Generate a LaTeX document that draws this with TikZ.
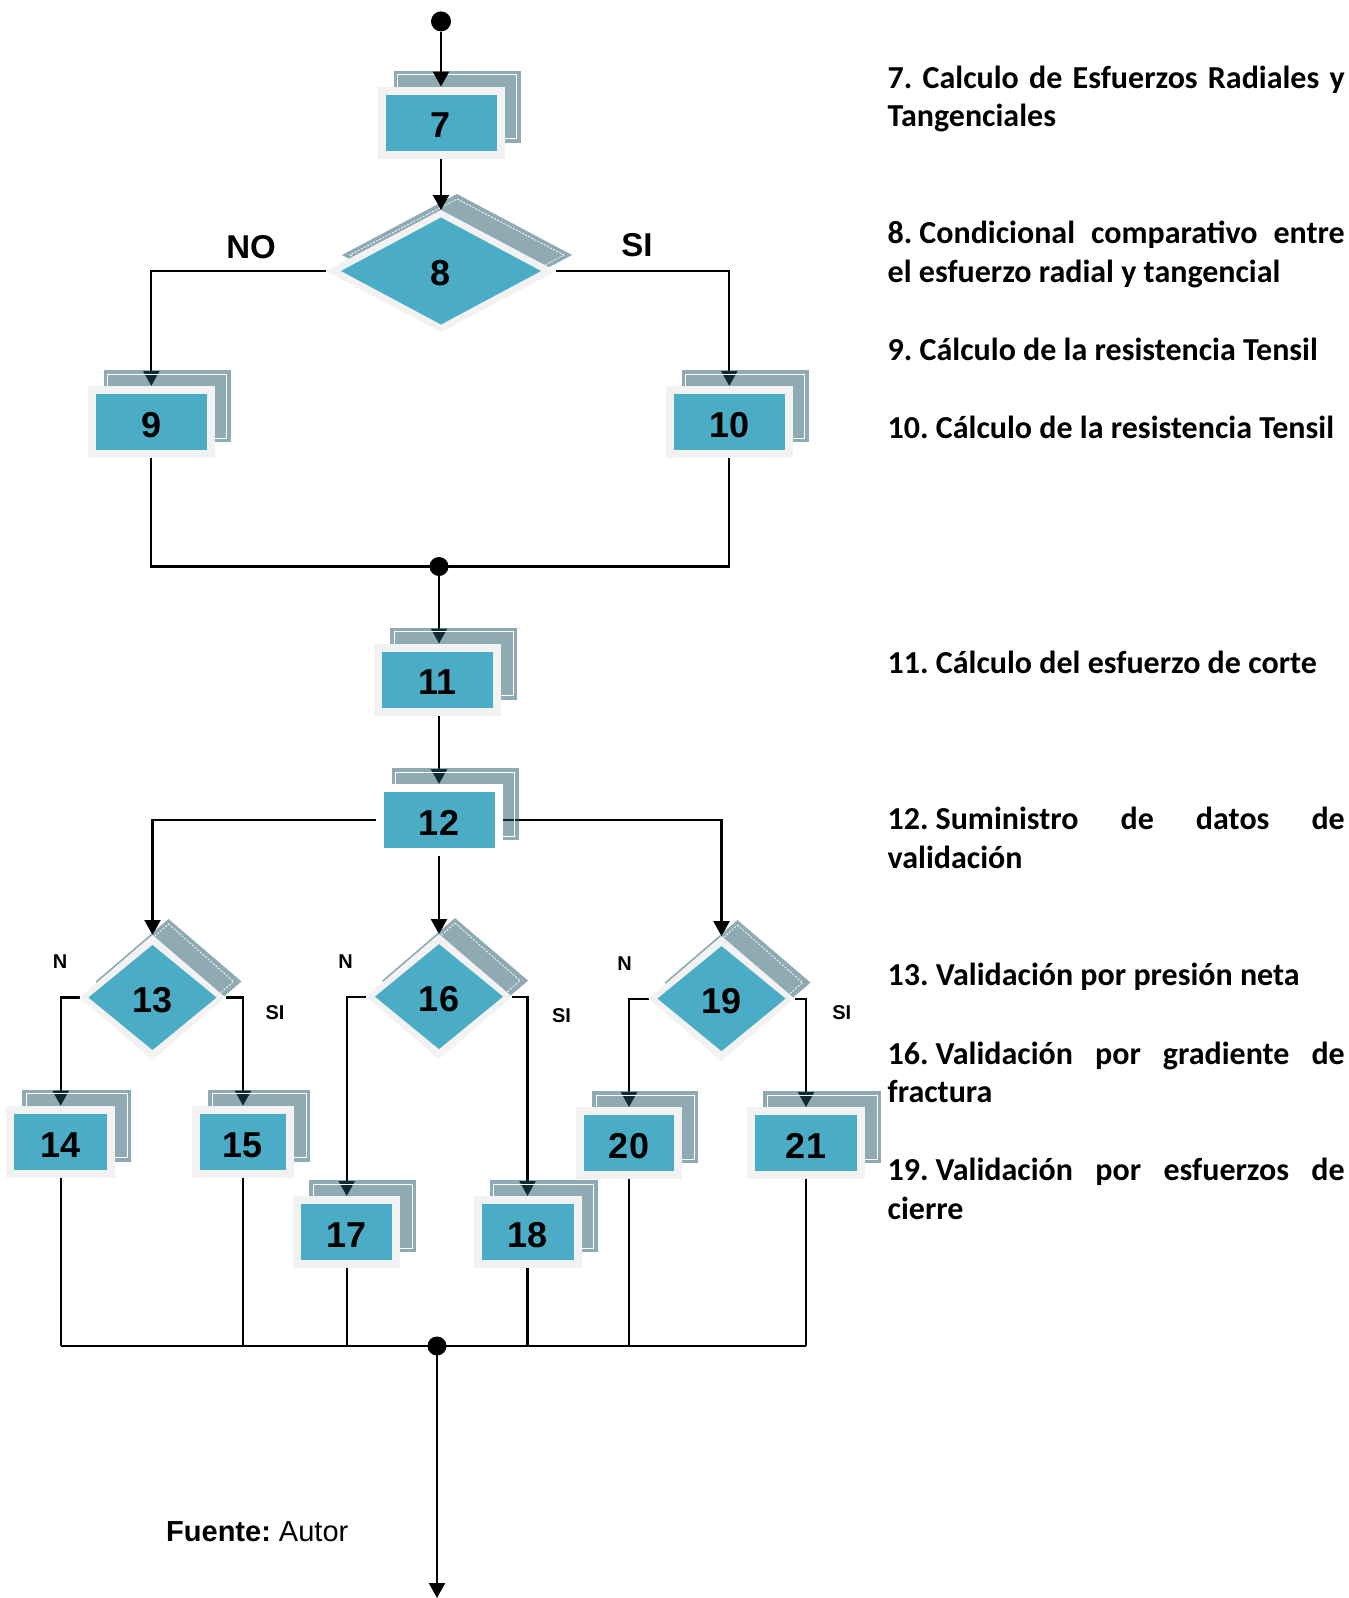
\documentclass[tikz,border=0pt]{standalone}
\usepackage{fontspec}
\setmainfont{Carlito}
\newfontfamily\lsans{Liberation Sans}
\usetikzlibrary{arrows.meta,shapes.geometric,calc}
\pgfdeclarelayer{bg}
\pgfdeclarelayer{shade}
\pgfsetlayers{bg,shade,main}
\definecolor{boxblue}{HTML}{4BACC6}
\definecolor{rimgray}{HTML}{F2F2F2}
\definecolor{shadowc}{RGB}{31,85,103}
\frenchspacing
\tikzset{
 conn/.style={line width=2.2pt, draw=black},
 arr/.style={conn, -{Triangle[length=15pt,width=16pt]}},
 outerbox/.style={rectangle, inner sep=0pt, outer sep=0pt, minimum height=72pt},
 innerbox/.style={rectangle, fill=boxblue, inner sep=0pt, outer sep=0pt, minimum height=56pt, font=\lsans\bfseries\fontsize{36}{40}\selectfont},
 outerdia/.style={diamond, fill=rimgray, inner sep=0pt, outer sep=0pt},
 innerdia/.style={diamond, fill=boxblue, inner sep=0pt, outer sep=0pt, font=\lsans\bfseries\fontsize{36}{40}\selectfont},
 desc/.style={anchor=base west, inner sep=0pt, font=\bfseries\fontsize{32}{38.5}\selectfont},
 yesno/.style={inner sep=0pt, font=\lsans\bfseries\fontsize{33}{36}\selectfont},
 smalllab/.style={inner sep=0pt, font=\lsans\bfseries\fontsize{20}{24}\selectfont},
 dot/.style={circle, fill=black, inner sep=0pt, minimum size=20pt},
}
\newcommand\lowered[2]{\raisebox{-#1}[\height][0pt]{#2}}
\newcommand\fbx[6]{%
 \begin{pgfonlayer}{shade}
  \begin{scope}[shift={(#2+16,#3-16)}]
   \fill[shadowc,fill opacity=0.5] (-#4/2-8,-36) rectangle (#4/2+8,36);
   \draw[white,line width=1pt] (-#4/2-4,-32) rectangle (#4/2+4,32);
  \end{scope}
 \end{pgfonlayer}
 \node[outerbox,fill=#6,minimum width=#4+16] (#1) at (#2,#3) {};
 \node[innerbox,minimum width=#4] (#1i) at (#2,#3) {\lowered{3pt}{#5}};
}
\newcommand\fdia[8]{%
 \begin{pgfonlayer}{shade}
  \begin{scope}[shift={(#2+16,#3-16)}]
   \fill[shadowc,fill opacity=0.5] (0,-#5/2) -- (#4/2,0) -- (0,#5/2) -- (-#4/2,0) -- cycle;
   \draw[white,line width=0.8pt,dash pattern=on 2pt off 1.5pt] (0,-#5/2+5) -- (#4/2-8,0) -- (0,#5/2-5) -- (-#4/2+8,0) -- cycle;
  \end{scope}
 \end{pgfonlayer}
 \node[outerdia,minimum width=#4,minimum height=#5] (#1) at (#2,#3) {};
 \node[innerdia,minimum width=#6,minimum height=#7] (#1i) at (#2,#3) {\lowered{2pt}{#8}};
}
\newcommand\jl[1]{\makebox[457pt][s]{#1}}
\begin{document}
\begin{tikzpicture}[x=1pt,y=-1pt]
\useasboundingbox (0,0) rectangle (1349,1598);
% nodes
\node[dot] (top) at (441,21.4) {};
\fbx{b7}{441}{122.5}{111}{7}{rimgray}
\fdia{d8}{441}{271}{230}{122}{200}{107}{8}
\fbx{b9}{151.3}{422}{111}{9}{rimgray}
\fbx{b10}{729.3}{422}{111}{10}{rimgray}
\node[dot,minimum size=19pt] (j1) at (439,566.5) {};
\fbx{b11}{437.5}{679.5}{111}{11}{rimgray}
\fbx{b12}{439}{820}{111}{12}{white}
\fdia{d13}{152.5}{997.5}{146}{125}{128}{105}{13}
\fdia{d16}{439}{996.6}{146}{125}{128}{105}{16}
\fdia{d19}{721.5}{998.6}{146}{125}{128}{105}{19}
\fbx{b14}{60.7}{1141.7}{93}{14}{rimgray}
\fbx{b15}{243}{1141.7}{86}{15}{rimgray}
\fbx{b17}{346.7}{1232}{91}{17}{rimgray}
\fbx{b18}{527.5}{1232}{92}{18}{rimgray}
\fbx{b20}{629}{1143}{90}{20}{rimgray}
\fbx{b21}{806}{1143}{102}{21}{rimgray}
\node[dot,minimum size=19pt] (j2) at (437,1346) {};
\coordinate (bottom) at (437,1598);
% connectors
\draw[arr] (top) -- (b7.north);
\draw[arr] (b7.south) -- (d8.north);
\begin{pgfonlayer}{bg}
\draw[arr] (d8.west) -| (b9.north);
\draw[arr] (d8.east) -| (b10.north);
\draw[conn] (b9.south) |- (j1.center) -| (b10.south);
\draw[arr] (j1.center) -- (j1 |- b11.north);
\draw[arr] (j1 |- b11.south) -- (j1 |- b12.north);
\draw[arr] (b12.west) -| (d13.north);
\draw[arr] (b12.east) -| (d19.north);
\draw[arr] (b12.south) -- (d16.north);
\draw[arr] (d13.west) -| (b14.north);
\draw[arr] (d13.east) -| (b15.north);
\draw[arr] (d16.west) -| (b17.north);
\draw[arr] (d16.east) -| (b18.north);
\draw[arr] (d19.west) -| (b20.north);
\draw[arr] (d19.east) -| (b21.north);
\draw[conn] (b14.south) -- (b14.south |- j2);
\draw[conn] (b15.south) -- (b15.south |- j2);
\draw[conn] (b17.south) -- (b17.south |- j2);
\draw[conn] (b18.south) -- (b18.south |- j2);
\draw[conn] (b20.south) -- (b20.south |- j2);
\draw[conn] (b21.south) -- (b21.south |- j2);
\draw[conn] (b14.south |- j2) -- (b21.south |- j2);
\draw[arr] (j2.center) -- (bottom);
\end{pgfonlayer}
% branch labels
\node[yesno] (no8) at (251,247) {NO};
\node[yesno] (si8) at (637,245.5) {SI};
\node[smalllab] (n13) at (60,962) {N};
\node[smalllab] (s13) at (275,1013) {SI};
\node[smalllab] (n16) at (345.5,962) {N};
\node[smalllab] (s16) at (561.5,1016) {SI};
\node[smalllab] (n19) at (624.6,964) {N};
\node[smalllab] (s19) at (841.7,1013) {SI};
% source
\node[anchor=base west,inner sep=0pt,font=\lsans\fontsize{29}{32}\selectfont] (src) at (166,1541) {\textbf{Fuente:} Autor};
% descriptions
\node[desc] (t7a) at (887.5,88) {\jl{7. Calculo de Esfuerzos Radiales y}};
\node[desc] (t7b) at (887.5,126.5) {Tangenciales};
\node[desc] (t8a) at (887.5,243.5) {\jl{8.\hspace{7pt}Condicional comparativo entre}};
\node[desc] (t8b) at (887.5,282) {el esfuerzo radial y tangencial};
\node[desc] (t9) at (887.5,360) {9. Cálculo de la resistencia Tensil};
\node[desc] (t10) at (887.5,438.5) {10. Cálculo de la resistencia Tensil};
\node[desc] (t11) at (887.5,673.5) {11. Cálculo del esfuerzo de corte};
\node[desc] (t12a) at (887.5,829.5) {\jl{12.\hspace{7pt}Suministro de datos de}};
\node[desc] (t12b) at (887.5,868) {validación};
\node[desc] (t13) at (887.5,985.5) {13. Validación por presión neta};
\node[desc] (t16a) at (887.5,1064) {\jl{16.\hspace{7pt}Validación por gradiente de}};
\node[desc] (t16b) at (887.5,1102.5) {fractura};
\node[desc] (t19a) at (887.5,1180.5) {\jl{19.\hspace{7pt}Validación por esfuerzos de}};
\node[desc] (t19b) at (887.5,1219) {cierre};
\end{tikzpicture}
\end{document}
